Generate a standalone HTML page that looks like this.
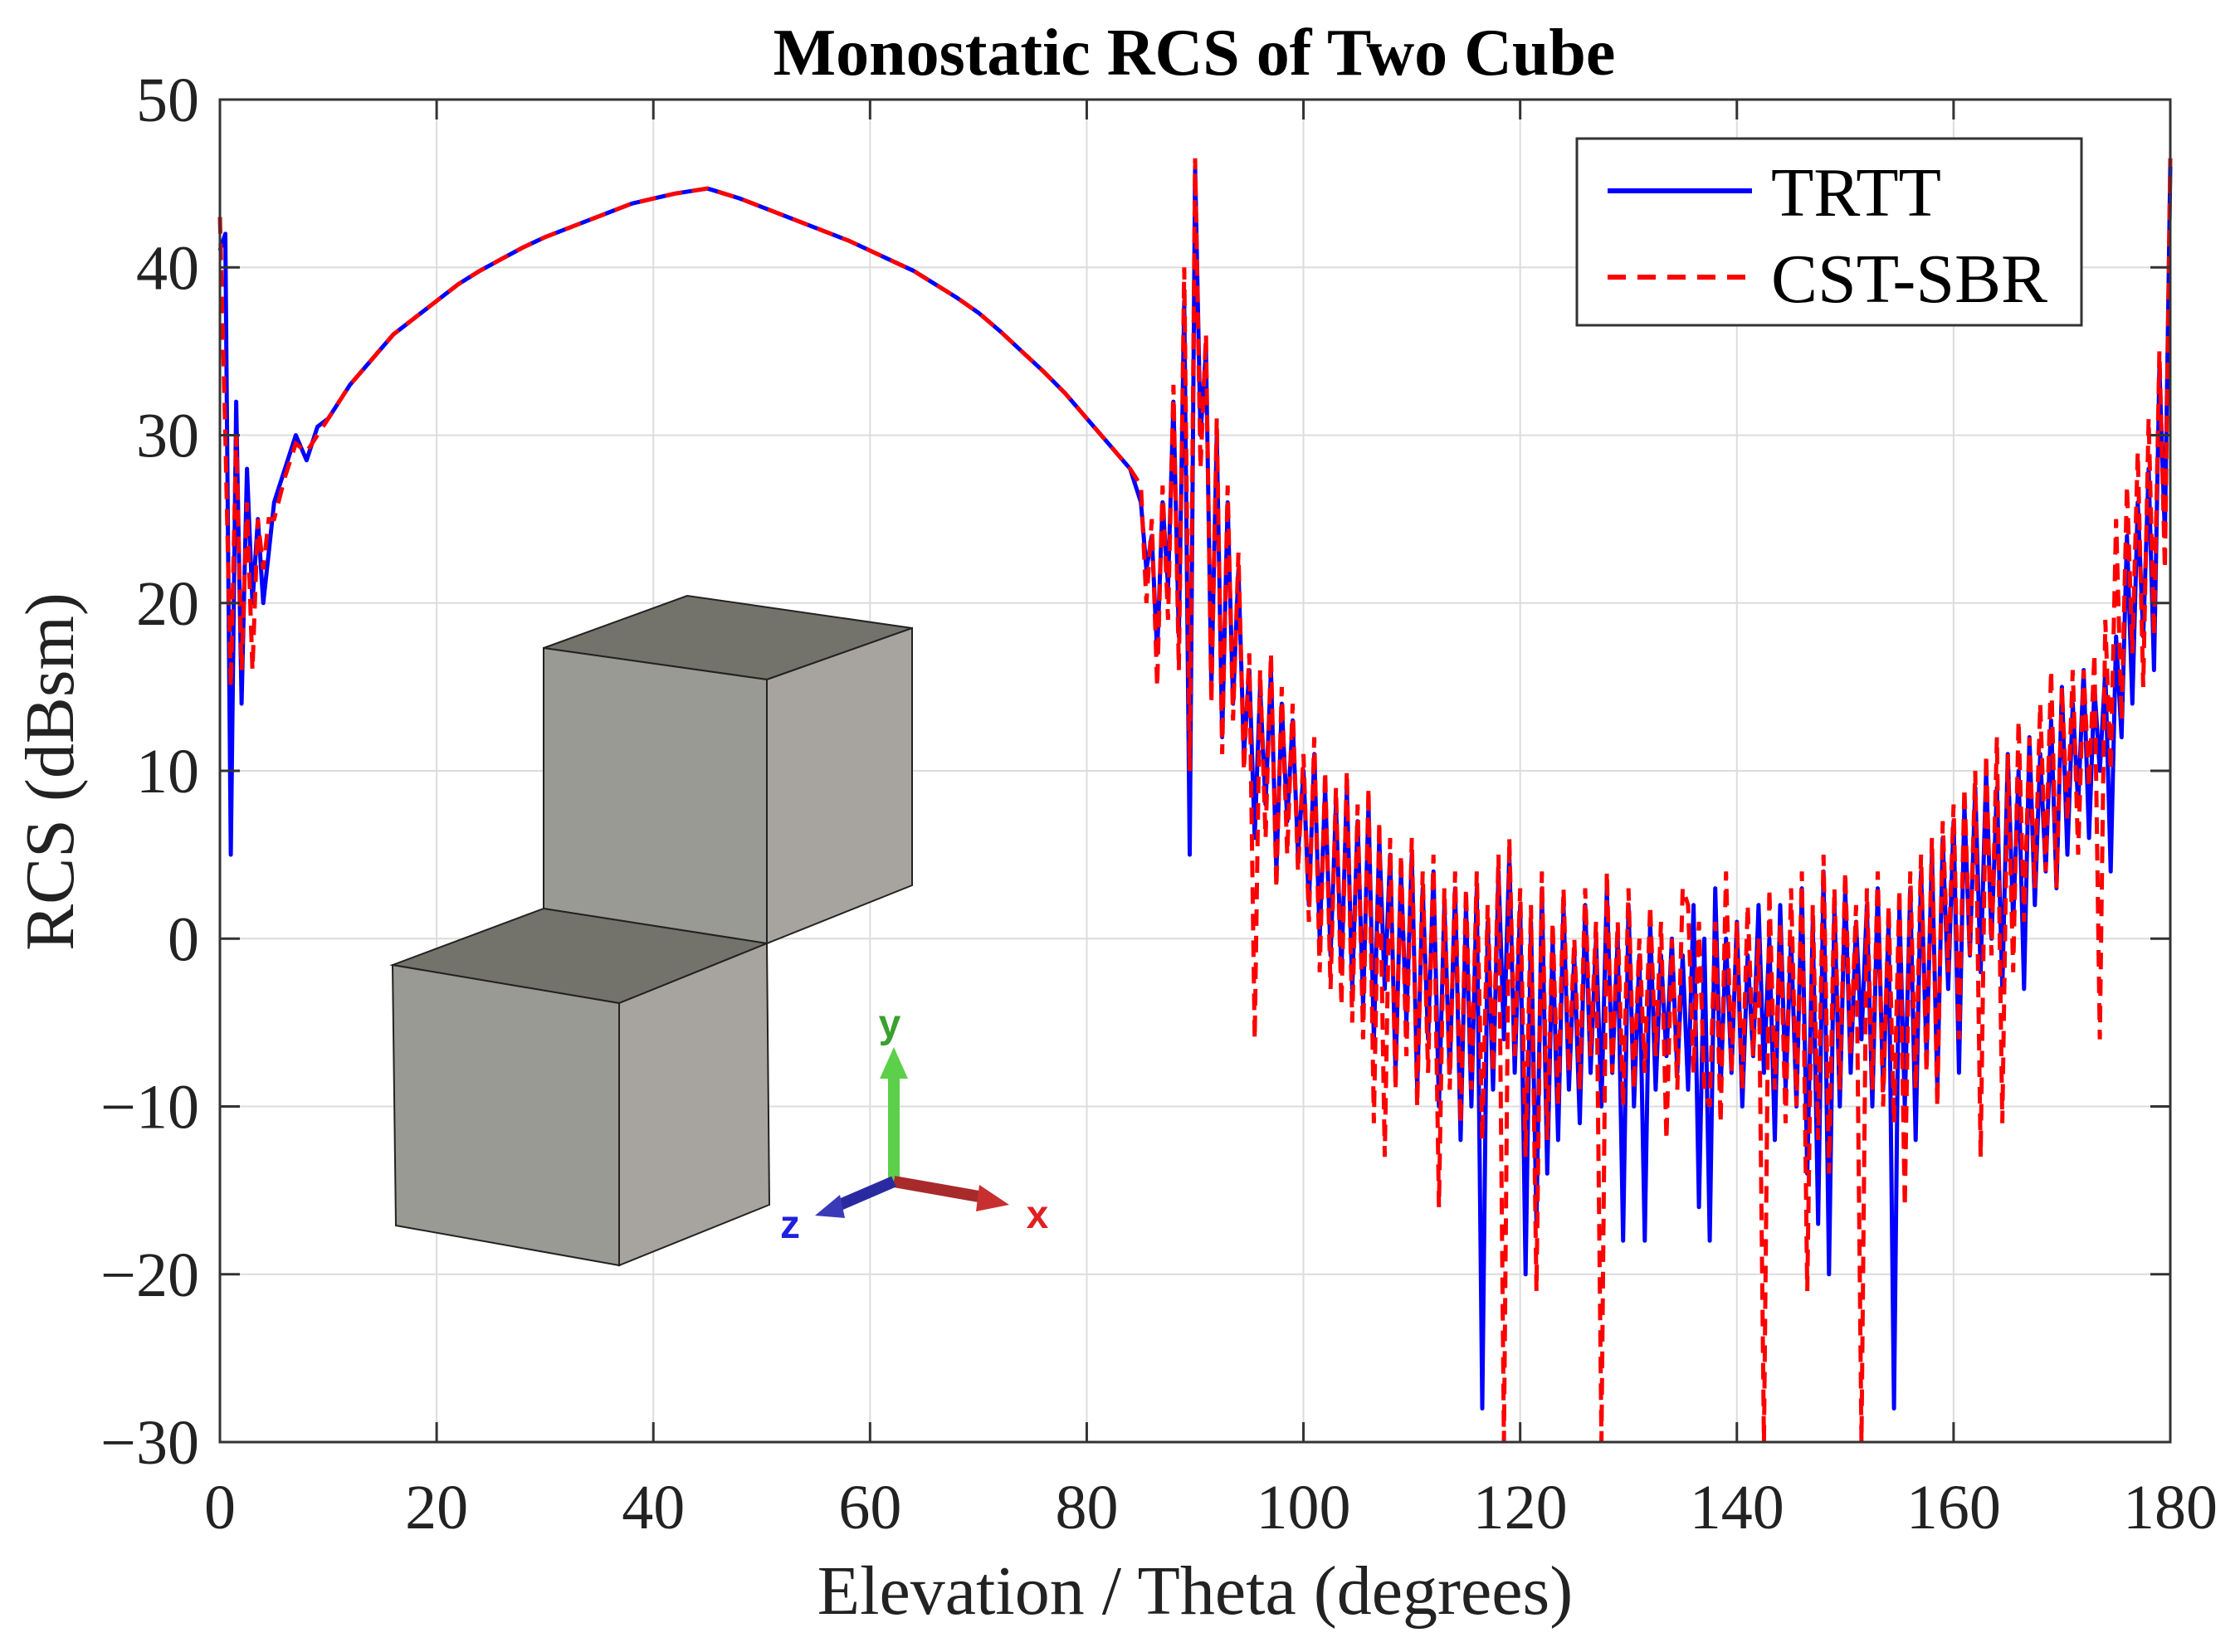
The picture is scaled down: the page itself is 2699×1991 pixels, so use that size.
<!DOCTYPE html>
<html><head><meta charset="utf-8"><style>
html,body{margin:0;padding:0;background:#fff;}
svg{display:block;font-family:"Liberation Serif",serif;}
</style></head><body>
<svg id="chart" width="2699" height="1991" viewBox="0 0 2699 1991" xmlns="http://www.w3.org/2000/svg">
<text x="1439" y="90" font-size="80" font-weight="bold" text-anchor="middle" fill="#000">Monostatic RCS of Two Cube</text>
<g id="grid"></g>
<g id="cubes">
  <polygon points="655,781 828,718 1099,757 924,819" fill="#73736b" stroke="#222" stroke-width="2"/>
  <polygon points="655,781 924,819 924,1137 655,1095" fill="#9a9a94" stroke="#222" stroke-width="2"/>
  <polygon points="924,819 1099,757 1099,1067 924,1137" fill="#a7a4a0" stroke="#222" stroke-width="2"/>
  <polygon points="473,1163 655,1095 924,1137 746,1209" fill="#73736b" stroke="#222" stroke-width="2"/>
  <polygon points="473,1163 746,1209 746,1525 477,1477" fill="#9a9a94" stroke="#222" stroke-width="2"/>
  <polygon points="746,1209 924,1137 927,1452 746,1525" fill="#a7a4a0" stroke="#222" stroke-width="2"/>
</g>
<g>
  <line x1="1077" y1="1424" x2="1077" y2="1295" stroke="#5cd04a" stroke-width="14"/>
  <polygon points="1060,1300 1094,1300 1077,1262" fill="#5cd04a"/>
  <line x1="1077" y1="1424" x2="1185" y2="1443" stroke="#a82a2a" stroke-width="14"/>
  <polygon points="1180,1428 1216,1452 1176,1460" fill="#c83030"/>
  <line x1="1077" y1="1424" x2="1005" y2="1455" stroke="#2a2aa0" stroke-width="14"/>
  <polygon points="1012,1440 982,1465 1018,1468" fill="#3a3ab8"/>
  <text x="1072" y="1250" font-family="Liberation Sans,sans-serif" font-weight="bold" font-size="48" fill="#3aa030" text-anchor="middle">y</text>
  <text x="1250" y="1480" font-family="Liberation Sans,sans-serif" font-weight="bold" font-size="48" fill="#e02020" text-anchor="middle">x</text>
  <text x="952" y="1492" font-family="Liberation Sans,sans-serif" font-weight="bold" font-size="48" fill="#2020e0" text-anchor="middle">z</text>
</g>
<g id="series"></g>
<rect x="265" y="120" width="2350" height="1618" fill="none" stroke="#333" stroke-width="3"/>
<g id="ticks"></g>
<text x="1440" y="1945" font-size="84" text-anchor="middle" fill="#222">Elevation / Theta (degrees)</text>
<text transform="translate(88,930) rotate(-90)" font-size="84" text-anchor="middle" fill="#222">RCS (dBsm)</text>
<g>
  <rect x="1900" y="167" width="608" height="225" fill="#fff" stroke="#333" stroke-width="3"/>
  <line x1="1937" y1="230" x2="2111" y2="230" stroke="#0000ff" stroke-width="6"/>
  <text x="2134" y="260" font-size="84" fill="#000">TRTT</text>
  <line x1="1937" y1="334" x2="2111" y2="334" stroke="#ff0000" stroke-width="6" stroke-dasharray="22,14"/>
  <text x="2134" y="364" font-size="84" fill="#000">CST-SBR</text>
</g>
</svg>
<script>
const xTicks = [0,20,40,60,80,100,120,140,160,180];
const yTicks = [50,40,30,20,10,0,-10,-20,-30];
const yTickLabels = ["50","40","30","20","10","0","\u221210","\u221220","\u221230"];
const thetaHead = [0,0.5,1,1.5,2,2.5,3,3.5,4,4.5,5,6,7,8,9,10,12,14,16,18,20,22,24,26,28,30,32,34,36,38,40,42,44,45,46,48,50,52,54,56,58,60,62,64,66,68,70,72,74,76,78,80,82,84];
const trttHead = [41,42,5,32,14,28,20,25,20,23,26,28,30,28.5,30.5,31,33,34.5,36,37,38,39,39.8,40.5,41.2,41.8,42.3,42.8,43.3,43.8,44.1,44.4,44.6,44.7,44.5,44.1,43.6,43.1,42.6,42.1,41.6,41.0,40.4,39.8,39.0,38.2,37.3,36.2,35.0,33.8,32.5,31.0,29.5,28];
const cstHead = [43,30,15,30,16,26,16,25,22,25,25,27.5,29.5,29,30,31,33,34.5,36,37,38,39,39.8,40.5,41.2,41.8,42.3,42.8,43.3,43.8,44.1,44.4,44.6,44.7,44.5,44.1,43.6,43.1,42.6,42.1,41.6,41.0,40.4,39.8,39.0,38.2,37.3,36.2,35.0,33.8,32.5,31.0,29.5,28];
const tailStart = 85, tailStep = 0.5;
const trttTail = [26,22,24,17,26,21,32,18,38,5,46,30,35,15,30,12,26,14,22,11,16,6,15,8,16,4,14,7,13,5,10,2,11,0,9,-1,8,-2,9,-3,7,-4,8,-6,6,-3,5,-8,4,-5,5,-9,3,-6,4,-10,2,-8,3,-12,2,-10,3,-28,1,-9,4,-6,5,-8,2,-20,1,-17,3,-14,0,-12,2,-9,-1,-11,2,-8,0,-10,3,-8,0,-18,2,-10,-1,-18,1,-9,-1,-7,0,-8,-1,-9,2,-16,0,-18,3,-9,0,-8,1,-10,-1,-7,2,-8,0,-12,2,-9,0,-10,3,-14,1,-17,4,-20,2,-10,3,-8,1,-6,2,-10,3,-9,1,-28,2,-10,3,-12,4,-7,5,-9,6,-3,7,-8,8,-1,9,-2,10,0,9,-3,11,1,10,-3,12,2,11,4,13,3,15,5,14,8,16,6,15,10,16,4,18,12,24,14,26,18,28,16,34,24,46];
const cstTail = [27,20,25,15,27,19,33,16,40,10,46.5,28,36,14,31,11,27,13,23,10,17,-6,16,6,17,3,15,5,14,4,11,1,12,-2,10,-3,9,-4,10,-5,8,-6,9,-11,7,-13,6,-9,5,-7,6,-10,4,-8,5,-16,3,-9,4,-11,3,-9,4,-12,2,-8,5,-30,6,-7,3,-13,2,-21,4,-12,1,-10,3,-8,0,-9,3,-7,1,-30,4,-8,1,-10,3,-9,0,-8,2,-7,1,-12,0,-9,3,2,-8,1,-9,-10,1,-11,4,-8,1,-9,2,-7,0,-30,3,-9,1,-11,3,-10,4,-21,2,-12,5,-14,3,-9,4,-7,2,-30,3,-9,4,-10,2,-11,3,-16,4,-9,5,-8,6,-10,7,-2,8,-6,9,-1,10,-13,11,-1,12,-11,11,-2,13,1,12,3,14,4,16,3,15,7,16,5,16,9,17,-6,19,10,25,13,27,17,29,15,31,18,35,22,46.5];

const L=265,R=2615,T=120,B=1738;
function xs(t){return L+(t/180)*(R-L);}
function ys(v){return T+((50-v)/80)*(B-T);}
const NS='http://www.w3.org/2000/svg';
const grid=document.getElementById('grid'), ticks=document.getElementById('ticks'), series=document.getElementById('series');
function mk(tag,attrs,parent){const e=document.createElementNS(NS,tag);for(const k in attrs)e.setAttribute(k,attrs[k]);parent.appendChild(e);return e;}

xTicks.forEach((t,i)=>{
  const x=xs(t);
  if(i>0&&i<xTicks.length-1){
    const g=mk('line',{x1:x,y1:T,x2:x,y2:B,stroke:'#dcdcdc','stroke-width':2},grid);
    
    
  }
  const a=mk('line',{x1:x,y1:B,x2:x,y2:B-24,stroke:'#333','stroke-width':3},ticks);
  
  
  const b=mk('line',{x1:x,y1:T,x2:x,y2:T+24,stroke:'#333','stroke-width':3},ticks);
  
  
  const lab=mk('text',{x:x,y:1842,'font-size':76,'text-anchor':'middle',fill:'#222'},ticks);
  lab.textContent=String(t);
  
  
});
yTicks.forEach((v,i)=>{
  const y=ys(v);
  if(i>0&&i<yTicks.length-1){
    const g=mk('line',{x1:L,y1:y,x2:R,y2:y,stroke:'#dcdcdc','stroke-width':2},grid);
    
    
  }
  const a=mk('line',{x1:L,y1:y,x2:L+24,y2:y,stroke:'#333','stroke-width':3},ticks);
  
  
  const b=mk('line',{x1:R,y1:y,x2:R-24,y2:y,stroke:'#333','stroke-width':3},ticks);
  
  
  const lab=mk('text',{x:240,y:y+26,'font-size':76,'text-anchor':'end',fill:'#222'},ticks);
  lab.textContent=yTickLabels[i];
  
  
});

function pathFor(headT,headV,tailV){
  const pts=[];
  headT.forEach((t,i)=>pts.push([xs(t),ys(headV[i])]));
  tailV.forEach((v,i)=>pts.push([xs(tailStart+i*tailStep),ys(v)]));
  return 'M'+pts.map(p=>p[0].toFixed(1)+','+p[1].toFixed(1)).join(' L');
}
const blue=mk('path',{d:pathFor(thetaHead,trttHead,trttTail),fill:'none',stroke:'#0000ff','stroke-width':5,'stroke-linejoin':'round'},series);


const red=mk('path',{d:pathFor(thetaHead,cstHead,cstTail),fill:'none',stroke:'#ff0000','stroke-width':5,'stroke-dasharray':'20,12'},series);


</script>
</body></html>
